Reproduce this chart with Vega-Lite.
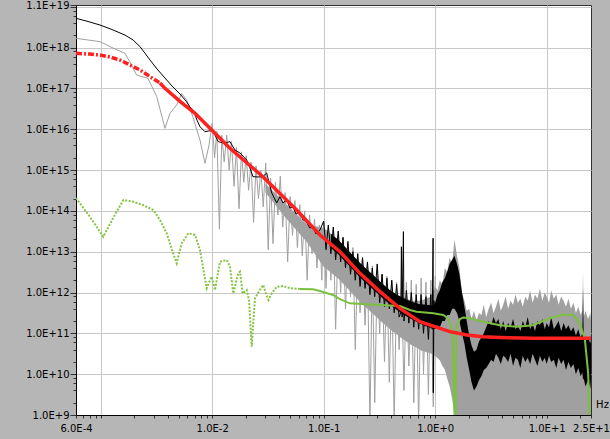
{
  "$schema": "https://vega.github.io/schema/vega-lite/v6.json",
  "width": 515,
  "height": 410,
  "autosize": "none",
  "padding": {"left": 76, "top": 5, "right": 19, "bottom": 24},
  "background": "#b6b6b6",
  "config": {
    "view": {"fill": "white", "stroke": "#303030", "strokeWidth": 1},
    "axis": {"labelFont": "DejaVu Sans", "labelFontSize": 10, "labelColor": "black", "titleFont": "DejaVu Sans", "titleFontSize": 10, "titleFontWeight": "normal", "titleColor": "black", "domainColor": "black", "tickColor": "#333333", "gridColor": "#c8c8c8", "gridWidth": 1, "labelOverlap": false, "labelFlush": false, "labelBound": false}
  },
  "datasets": {
    "gray": [
      {"freq":0.0006,"psd":1.68e18},{"freq":0.000985,"psd":1.39e18},{"freq":0.00126,"psd":1.0e18},{"freq":0.00165,"psd":7.2e17},{"freq":0.00183,"psd":4.4e17},{"freq":0.0021,"psd":2.12e17},{"freq":0.00265,"psd":1.76e17},{"freq":0.00318,"psd":6.3e16},{"freq":0.00377,"psd":1.05e16},{"freq":0.00418,"psd":2.45e16},{"freq":0.0048,"psd":3.9e16},{"freq":0.00532,"psd":7.55e16},{"freq":0.0059,"psd":5.2e16},{"freq":0.00671,"psd":2.0e16},{"freq":0.00777,"psd":5.4e15},{"freq":0.00861,"psd":1.46e15},{"freq":0.00935,"psd":4.0e15},
      {"freq":0.0100,"psd":1.41e16},{"freq":0.0105,"psd":2.0e15},{"freq":0.0110,"psd":8.9e15},{"freq":0.0116,"psd":3.55e13},{"freq":0.0122,"psd":7.1e15},{"freq":0.0128,"psd":1.58e15},{"freq":0.0135,"psd":7.1e15},{"freq":0.0142,"psd":1.0e15},{"freq":0.0149,"psd":5.0e15},{"freq":0.0157,"psd":4.0e14},{"freq":0.0165,"psd":3.55e15},{"freq":0.0174,"psd":1.12e14},{"freq":0.0183,"psd":2.8e15},{"freq":0.0192,"psd":5.0e14},{"freq":0.0202,"psd":2.24e15},{"freq":0.0212,"psd":3.2e14},{"freq":0.0223,"psd":1.58e15},{"freq":0.0235,"psd":5.2e13},{"freq":0.0247,"psd":1.26e15},{"freq":0.0260,"psd":2.0e14},{"freq":0.0273,"psd":1.0e15},{"freq":0.0287,"psd":1.26e14},{"freq":0.0302,"psd":1.48e15},{"freq":0.0318,"psd":1.12e13},{"freq":0.0334,"psd":6.3e14},{"freq":0.0351,"psd":1.58e13},{"freq":0.0369,"psd":5.0e14},{"freq":0.0388,"psd":7.9e13},{"freq":0.0408,"psd":7.1e14},{"freq":0.0429,"psd":4.0e13},{"freq":0.0451,"psd":2.8e14},{"freq":0.0475,"psd":5.6e12},{"freq":0.0500,"psd":2.24e14},{"freq":0.0525,"psd":2.5e13},{"freq":0.0552,"psd":1.78e14},{"freq":0.0581,"psd":1.26e13},{"freq":0.0611,"psd":1.41e14},{"freq":0.0643,"psd":7.9e12},{"freq":0.0676,"psd":1.0e14},{"freq":0.0711,"psd":2.0e12},{"freq":0.0748,"psd":7.9e13},{"freq":0.0786,"psd":8.9e12},{"freq":0.0827,"psd":6.3e13},{"freq":0.0870,"psd":4.0e12},{"freq":0.0915,"psd":4.5e13},{"freq":0.0962,"psd":2.0e12},
      {"freq":0.100,"psd":5.6e13},{"freq":0.105,"psd":1.26e12},{"freq":0.110,"psd":4.0e13},{"freq":0.116,"psd":2.0e12},{"freq":0.122,"psd":3.55e13},{"freq":0.128,"psd":1.26e11},{"freq":0.135,"psd":2.5e13},{"freq":0.142,"psd":1.0e12},{"freq":0.149,"psd":2.24e13},{"freq":0.157,"psd":4.0e11},{"freq":0.165,"psd":1.58e13},{"freq":0.174,"psd":7.9e11},{"freq":0.183,"psd":1.26e13},{"freq":0.192,"psd":4.0e10},{"freq":0.202,"psd":8.9e12},{"freq":0.212,"psd":3.2e11},{"freq":0.223,"psd":7.1e12},{"freq":0.235,"psd":1.58e11},{"freq":0.247,"psd":5.6e12},{"freq":0.260,"psd":6.3e8},{"freq":0.273,"psd":4.5e12},{"freq":0.287,"psd":2.0e9},{"freq":0.302,"psd":3.55e12},{"freq":0.318,"psd":1.0e11},{"freq":0.334,"psd":2.8e12},{"freq":0.351,"psd":2.0e10},{"freq":0.369,"psd":2.5e12},{"freq":0.388,"psd":6.3e9},{"freq":0.408,"psd":2.0e12},{"freq":0.429,"psd":6.3e8},{"freq":0.451,"psd":1.78e12},{"freq":0.475,"psd":4.0e10},{"freq":0.500,"psd":2.0e12},{"freq":0.525,"psd":4.0e9},{"freq":0.552,"psd":1.78e12},{"freq":0.581,"psd":1.58e10},{"freq":0.611,"psd":2.0e12},{"freq":0.643,"psd":2.0e9},{"freq":0.676,"psd":1.58e12},{"freq":0.711,"psd":6.3e8},{"freq":0.748,"psd":2.24e12},{"freq":0.786,"psd":1.0e10},{"freq":0.827,"psd":1.78e12},{"freq":0.870,"psd":3.2e9},{"freq":0.915,"psd":2.0e12},{"freq":0.962,"psd":1.58e9},{"freq":1.0,"psd":2.51e12}
    ],
    "gray_band": [
      {"freq":0.03,"psd":4.7e14,"lo":2.8e14},{"freq":0.045,"psd":1.55e14,"lo":7.1e13},{"freq":0.07,"psd":4.7e13,"lo":1.78e13},
      {"freq":0.1,"psd":3.8e13,"lo":4.3e12},{"freq":0.11,"psd":3.1e13,"lo":3.5e12},{"freq":0.122,"psd":2.45e13,"lo":2.75e12},{"freq":0.135,"psd":1.95e13,"lo":2.2e12},{"freq":0.149,"psd":1.48e13,"lo":1.66e12},{"freq":0.165,"psd":1.1e13,"lo":1.23e12},{"freq":0.183,"psd":8.1e12,"lo":9.1e11},{"freq":0.202,"psd":6.0e12,"lo":6.8e11},{"freq":0.223,"psd":4.6e12,"lo":5.1e11},{"freq":0.247,"psd":3.55e12,"lo":4.0e11},{"freq":0.273,"psd":2.75e12,"lo":3.1e11},{"freq":0.302,"psd":2.14e12,"lo":2.4e11},{"freq":0.334,"psd":1.66e12,"lo":1.86e11},{"freq":0.369,"psd":1.32e12,"lo":1.48e11},{"freq":0.408,"psd":1.05e12,"lo":1.17e11},{"freq":0.451,"psd":8.9e11,"lo":9.5e10},{"freq":0.5,"psd":7.9e11,"lo":7.6e10},{"freq":0.552,"psd":7.1e11,"lo":6.3e10},{"freq":0.611,"psd":6.3e11,"lo":5.2e10},{"freq":0.676,"psd":6.3e11,"lo":4.5e10},{"freq":0.748,"psd":6.3e11,"lo":3.8e10},{"freq":0.827,"psd":7.1e11,"lo":3.5e10},{"freq":0.915,"psd":7.9e11,"lo":3.2e10},
      {"freq":1.0,"psd":1.41e12,"lo":2.8e10},{"freq":1.05,"psd":1.12e12,"lo":2.5e10},{"freq":1.1,"psd":2.0e12,"lo":2.2e10},{"freq":1.16,"psd":1.58e12,"lo":1.6e10},{"freq":1.22,"psd":3.98e12,"lo":1.3e10},{"freq":1.28,"psd":3.16e12,"lo":8e9},{"freq":1.35,"psd":7.08e12,"lo":5e9},{"freq":1.42,"psd":5.01e12,"lo":2.5e9},{"freq":1.49,"psd":2.0e13,"lo":1e9},
      {"freq":1.57,"psd":7.94e12,"lo":1e9},{"freq":1.65,"psd":3.98e12,"lo":1e9},{"freq":1.74,"psd":1.0e12,"lo":1e9},{"freq":1.83,"psd":6.31e11,"lo":1e9},{"freq":1.92,"psd":3.55e11,"lo":1e9},{"freq":2.02,"psd":3.98e11,"lo":1e9},{"freq":2.12,"psd":2.24e11,"lo":1e9},{"freq":2.23,"psd":3.55e11,"lo":1e9},{"freq":2.35,"psd":2.0e11,"lo":1e9},{"freq":2.47,"psd":3.16e11,"lo":1e9},{"freq":2.6,"psd":2.82e11,"lo":1e9},{"freq":2.73,"psd":5.01e11,"lo":1e9},{"freq":2.87,"psd":2.51e11,"lo":1e9},{"freq":3.02,"psd":3.98e11,"lo":1e9},{"freq":3.18,"psd":5.62e11,"lo":1e9},{"freq":3.34,"psd":3.16e11,"lo":1e9},{"freq":3.51,"psd":4.47e11,"lo":1e9},{"freq":3.69,"psd":7.08e11,"lo":1e9},{"freq":3.88,"psd":3.55e11,"lo":1e9},{"freq":4.08,"psd":5.01e11,"lo":1e9},{"freq":4.29,"psd":7.94e11,"lo":1e9},{"freq":4.51,"psd":3.98e11,"lo":1e9},{"freq":4.75,"psd":6.31e11,"lo":1e9},{"freq":5.0,"psd":5.01e11,"lo":1e9},{"freq":5.25,"psd":8.91e11,"lo":1e9},{"freq":5.52,"psd":5.62e11,"lo":1e9},{"freq":5.81,"psd":7.08e11,"lo":1e9},{"freq":6.11,"psd":4.47e11,"lo":1e9},{"freq":6.43,"psd":7.94e11,"lo":1e9},{"freq":6.76,"psd":6.31e11,"lo":1e9},{"freq":7.11,"psd":1.12e12,"lo":1e9},{"freq":7.48,"psd":5.62e11,"lo":1e9},{"freq":7.86,"psd":8.91e11,"lo":1e9},{"freq":8.27,"psd":7.08e11,"lo":1e9},{"freq":8.7,"psd":1.26e12,"lo":1e9},{"freq":9.15,"psd":6.31e11,"lo":1e9},{"freq":9.62,"psd":1.0e12,"lo":1e9},{"freq":10.0,"psd":7.94e11,"lo":1e9},{"freq":10.5,"psd":5.62e11,"lo":1e9},{"freq":11.0,"psd":1.12e12,"lo":1e9},{"freq":11.6,"psd":7.08e11,"lo":1e9},{"freq":12.2,"psd":8.91e11,"lo":1e9},{"freq":12.8,"psd":5.01e11,"lo":1e9},{"freq":13.5,"psd":7.94e11,"lo":1e9},{"freq":14.2,"psd":6.31e11,"lo":1e9},{"freq":14.9,"psd":4.47e11,"lo":1e9},{"freq":15.7,"psd":7.08e11,"lo":1e9},{"freq":16.5,"psd":3.98e11,"lo":1e9},{"freq":17.4,"psd":5.62e11,"lo":1e9},{"freq":18.3,"psd":3.16e11,"lo":1e9},{"freq":19.2,"psd":4.47e11,"lo":1e9},{"freq":20.2,"psd":2.82e11,"lo":1e9},{"freq":20.9,"psd":3.55e11,"lo":1e9},{"freq":21.2,"psd":3.16e12,"lo":1e9},{"freq":21.5,"psd":2.51e11,"lo":1e9},{"freq":22.3,"psd":3.55e11,"lo":1e9},{"freq":23.5,"psd":2.24e11,"lo":1e9},{"freq":24.7,"psd":3.16e11,"lo":1e9},{"freq":25,"psd":2.0e11,"lo":1e9}
    ],
    "black": [
      {"freq":0.0006,"psd":5.19e18},{"freq":0.000769,"psd":4.34e18},{"freq":0.000985,"psd":3.56e18},{"freq":0.00126,"psd":2.76e18},{"freq":0.00165,"psd":2.02e18},{"freq":0.00195,"psd":1.53e18},{"freq":0.00225,"psd":1.05e18},{"freq":0.00249,"psd":7.3e17},{"freq":0.00277,"psd":4.94e17},{"freq":0.0032,"psd":2.98e17},{"freq":0.00377,"psd":1.79e17},{"freq":0.00436,"psd":1.14e17},{"freq":0.00514,"psd":7.26e16},{"freq":0.00582,"psd":4.9e16},{"freq":0.00632,"psd":3.49e16},{"freq":0.00676,"psd":2.94e16},{"freq":0.0073,"psd":1.67e16},{"freq":0.00777,"psd":1.15e16},{"freq":0.00861,"psd":8.67e15},{"freq":0.00955,"psd":9.18e15},{"freq":0.01016,"psd":9.0e15},{"freq":0.01133,"psd":4.94e15},{"freq":0.01275,"psd":4.58e15},{"freq":0.01443,"psd":4.94e15},{"freq":0.016,"psd":3.09e15},{"freq":0.01774,"psd":2.61e15},{"freq":0.0204,"psd":1.76e15},{"freq":0.0218,"psd":1.12e15},{"freq":0.0232,"psd":6.87e14},{"freq":0.0257,"psd":6.76e14},{"freq":0.0285,"psd":6.87e14},{"freq":0.0308,"psd":8.46e14},{"freq":0.0342,"psd":2.74e14},{"freq":0.0379,"psd":1.56e14},{"freq":0.0405,"psd":2.22e14},{"freq":0.0431,"psd":1.56e14},{"freq":0.0466,"psd":1.84e14},{"freq":0.0498,"psd":1.17e14},{"freq":0.053,"psd":1.26e14},{"freq":0.0564,"psd":8.4e13},{"freq":0.0612,"psd":8.85e13},{"freq":0.0652,"psd":5.96e13},{"freq":0.068,"psd":5.96e13},{"freq":0.0753,"psd":3.8e13},{"freq":0.0801,"psd":4.1e13},{"freq":0.0852,"psd":2.71e13},{"freq":0.0926,"psd":3.39e13},
      {"freq":0.100,"psd":5.6e13},{"freq":0.105,"psd":1.12e13},{"freq":0.110,"psd":4.5e13},{"freq":0.116,"psd":8.9e12},{"freq":0.122,"psd":4.0e13},{"freq":0.128,"psd":6.3e12},{"freq":0.135,"psd":3.2e13},{"freq":0.142,"psd":5.6e12},{"freq":0.149,"psd":2.24e13},{"freq":0.157,"psd":4.0e12},{"freq":0.165,"psd":1.78e13},{"freq":0.174,"psd":2.8e12},{"freq":0.183,"psd":1.0e13},{"freq":0.192,"psd":2.0e12},{"freq":0.202,"psd":8.9e12},{"freq":0.212,"psd":1.41e12},{"freq":0.223,"psd":7.1e12},{"freq":0.235,"psd":1.26e12},{"freq":0.247,"psd":5.6e12},{"freq":0.260,"psd":8.9e11},{"freq":0.273,"psd":4.0e12},{"freq":0.287,"psd":7.9e11},{"freq":0.302,"psd":5.0e12},{"freq":0.318,"psd":5.6e11},{"freq":0.334,"psd":2.8e12},{"freq":0.351,"psd":4.5e11},{"freq":0.369,"psd":2.24e12},{"freq":0.388,"psd":4.0e11},{"freq":0.408,"psd":2.0e12},{"freq":0.429,"psd":3.2e11},{"freq":0.451,"psd":1.58e12},{"freq":0.475,"psd":2.5e11},{"freq":0.492,"psd":3.2e11},{"freq":0.498,"psd":1.32e13},{"freq":0.505,"psd":2.5e11},{"freq":0.519,"psd":3.1e13},{"freq":0.525,"psd":2.0e11},{"freq":0.552,"psd":1.12e12},{"freq":0.581,"psd":1.78e11},{"freq":0.611,"psd":1.0e12},{"freq":0.643,"psd":1.41e11},{"freq":0.676,"psd":8.9e11},{"freq":0.711,"psd":1.26e11},{"freq":0.748,"psd":8.9e11},{"freq":0.786,"psd":1.0e11},{"freq":0.827,"psd":7.9e11},{"freq":0.870,"psd":7.1e10},{"freq":0.915,"psd":8.9e11},{"freq":0.94,"psd":1.26e11},{"freq":0.958,"psd":2.14e13},{"freq":0.962,"psd":3.5e9},{"freq":0.975,"psd":6.3e11},{"freq":1.0,"psd":2.0e11}
    ],
    "black_band": [
      {"freq":0.116,"psd":2.75e13,"lo":1.23e13},{"freq":0.135,"psd":1.95e13,"lo":8.7e12},{"freq":0.157,"psd":1.26e13,"lo":5.6e12},{"freq":0.183,"psd":8.1e12,"lo":3.6e12},{"freq":0.212,"psd":5.25e12,"lo":2.34e12},{"freq":0.247,"psd":3.55e12,"lo":1.58e12},{"freq":0.287,"psd":2.45e12,"lo":1.1e12},{"freq":0.334,"psd":1.66e12,"lo":7.4e11},{"freq":0.388,"psd":1.17e12,"lo":5.25e11},{"freq":0.451,"psd":8.9e11,"lo":3.8e11},{"freq":0.525,"psd":7.1e11,"lo":2.8e11},{"freq":0.611,"psd":6.0e11,"lo":2.24e11},{"freq":0.711,"psd":5.25e11,"lo":1.78e11},{"freq":0.827,"psd":5.0e11,"lo":1.5e11},{"freq":0.962,"psd":4.8e11,"lo":1.32e11},
      {"freq":1.0,"psd":5.62e11,"lo":1.26e11},{"freq":1.05,"psd":8.91e11,"lo":1.58e11},{"freq":1.1,"psd":1.12e12,"lo":1.41e11},{"freq":1.16,"psd":1.78e12,"lo":2.0e11},{"freq":1.22,"psd":2.24e12,"lo":2.0e11},{"freq":1.28,"psd":3.16e12,"lo":2.82e11},{"freq":1.35,"psd":5.01e12,"lo":2.82e11},{"freq":1.42,"psd":6.31e12,"lo":3.98e11},{"freq":1.49,"psd":7.94e12,"lo":3.98e11},{"freq":1.57,"psd":5.01e12,"lo":3.16e11},{"freq":1.65,"psd":2.82e12,"lo":2.0e11},{"freq":1.74,"psd":1.0e12,"lo":1.0e11},{"freq":1.83,"psd":4.47e11,"lo":5.62e10},{"freq":1.92,"psd":2.0e11,"lo":2.51e10},{"freq":2.02,"psd":8.91e10,"lo":1.26e10},{"freq":2.12,"psd":5.01e10,"lo":6.31e9},{"freq":2.23,"psd":3.55e10,"lo":3.98e9},{"freq":2.35,"psd":3.98e10,"lo":5.01e9},{"freq":2.47,"psd":6.31e10,"lo":7.08e9},{"freq":2.6,"psd":7.94e10,"lo":8.91e9},{"freq":2.73,"psd":1.0e11,"lo":1.26e10},{"freq":2.87,"psd":1.41e11,"lo":1.41e10},
      {"freq":3.02,"psd":2.0e11,"lo":1.78e10},{"freq":3.18,"psd":1.58e11,"lo":2.24e10},{"freq":3.34,"psd":2.51e11,"lo":2.0e10},{"freq":3.51,"psd":1.78e11,"lo":3.16e10},{"freq":3.69,"psd":2.24e11,"lo":2.51e10},{"freq":3.88,"psd":1.26e11,"lo":1.78e10},{"freq":4.08,"psd":2.0e11,"lo":2.82e10},{"freq":4.29,"psd":1.12e11,"lo":2.51e10},{"freq":4.51,"psd":1.78e11,"lo":2.0e10},{"freq":4.75,"psd":1.41e11,"lo":3.16e10},{"freq":5.0,"psd":2.24e11,"lo":1.58e10},{"freq":5.25,"psd":1.26e11,"lo":2.51e10},{"freq":5.52,"psd":1.58e11,"lo":2.24e10},{"freq":5.81,"psd":1.12e11,"lo":1.41e10},{"freq":6.11,"psd":2.0e11,"lo":2.82e10},{"freq":6.43,"psd":1.41e11,"lo":2.0e10},{"freq":6.76,"psd":2.51e11,"lo":2.51e10},{"freq":7.11,"psd":1.26e11,"lo":1.78e10},{"freq":7.48,"psd":1.78e11,"lo":3.16e10},{"freq":7.86,"psd":1.12e11,"lo":2.24e10},{"freq":8.27,"psd":2.0e11,"lo":1.58e10},{"freq":8.7,"psd":1.58e11,"lo":2.82e10},{"freq":9.15,"psd":2.24e11,"lo":2.0e10},{"freq":9.62,"psd":1.26e11,"lo":2.51e10},{"freq":10.0,"psd":1.78e11,"lo":1.78e10},{"freq":10.5,"psd":1.41e11,"lo":2.82e10},{"freq":11.0,"psd":2.51e11,"lo":2.0e10},{"freq":11.6,"psd":1.26e11,"lo":2.24e10},{"freq":12.2,"psd":1.58e11,"lo":1.41e10},{"freq":12.8,"psd":2.0e11,"lo":2.51e10},{"freq":13.5,"psd":1.12e11,"lo":1.78e10},{"freq":14.2,"psd":1.78e11,"lo":2.24e10},{"freq":14.9,"psd":1.26e11,"lo":1.26e10},{"freq":15.7,"psd":1.58e11,"lo":2.0e10},{"freq":16.5,"psd":1.12e11,"lo":1.41e10},{"freq":17.4,"psd":1.41e11,"lo":1.78e10},{"freq":18.3,"psd":8.91e10,"lo":1.0e10},{"freq":19.2,"psd":1.26e11,"lo":1.41e10},{"freq":20.2,"psd":7.94e10,"lo":8.91e9},{"freq":20.9,"psd":1.0e11,"lo":1.12e10},{"freq":21.2,"psd":1.26e12,"lo":7.08e9},{"freq":21.5,"psd":8.91e10,"lo":7.94e9},{"freq":22.3,"psd":6.31e10,"lo":5.01e9},{"freq":23.5,"psd":7.94e10,"lo":7.08e9},{"freq":24.7,"psd":5.62e10,"lo":4.47e9},{"freq":25,"psd":7.94e10,"lo":7.94e9}
    ],
    "green_dotted": [
      {"freq":0.0006,"psd":2.06e14},{"freq":0.000801,"psd":7.1e13},{"freq":0.001054,"psd":2.33e13},{"freq":0.001288,"psd":6.6e13},{"freq":0.001594,"psd":1.84e14},{"freq":0.00196,"psd":1.67e14},{"freq":0.002393,"psd":1.39e14},{"freq":0.00296,"psd":1.05e14},{"freq":0.0034,"psd":5.96e13},{"freq":0.003906,"psd":2.82e13},{"freq":0.00436,"psd":1.1e13},{"freq":0.0048,"psd":5.19e12},{"freq":0.00532,"psd":1.58e13},{"freq":0.0061,"psd":2.82e13},{"freq":0.00701,"psd":2.57e13},{"freq":0.00777,"psd":1.1e13},{"freq":0.00892,"psd":1.27e12},{"freq":0.00989,"psd":2.45e12},{"freq":0.01059,"psd":1.15e12},{"freq":0.01174,"psd":5.69e12},{"freq":0.0135,"psd":6.25e12},{"freq":0.01443,"psd":4.3e12},{"freq":0.01545,"psd":9.5e11},{"freq":0.0171,"psd":2.95e12},{"freq":0.01774,"psd":3.24e12},{"freq":0.01875,"psd":9.5e11},{"freq":0.0204,"psd":1.15e12},{"freq":0.0214,"psd":6.5e11},{"freq":0.0226,"psd":4.7e10},{"freq":0.02345,"psd":2.1e11},{"freq":0.0242,"psd":7.2e11},{"freq":0.0268,"psd":1.17e12},{"freq":0.0287,"psd":1.53e12},{"freq":0.03035,"psd":9.3e11},{"freq":0.032,"psd":6.6e11},{"freq":0.0342,"psd":9.5e11},{"freq":0.0379,"psd":1.38e12},{"freq":0.0434,"psd":1.44e12},{"freq":0.0498,"psd":1.27e12},{"freq":0.0612,"psd":1.22e12}
    ],
    "green_solid": [
      {"freq":0.0612,"psd":1.22e12},{"freq":0.08,"psd":1.2e12},{"freq":0.0926,"psd":1.09e12},{"freq":0.1211,"psd":8.7e11},{"freq":0.14,"psd":6.9e11},{"freq":0.172,"psd":5.43e11},{"freq":0.2428,"psd":5.13e11},{"freq":0.483,"psd":4.68e11},{"freq":0.594,"psd":3.72e11},{"freq":0.682,"psd":3.39e11},{"freq":0.961,"psd":3.09e11},{"freq":1.181,"psd":2.81e11},{"freq":1.302,"psd":2.35e11},{"freq":1.385,"psd":1.5e11},{"freq":1.44,"psd":6.9e10},{"freq":1.5,"psd":5e8},{"freq":1.52,"psd":5e8},{"freq":1.535,"psd":2.2e10},{"freq":1.557,"psd":1.45e11},{"freq":1.668,"psd":2.24e11},{"freq":1.79,"psd":2.45e11},{"freq":2.051,"psd":2.35e11},{"freq":2.7,"psd":1.93e11},{"freq":3.811,"psd":1.58e11},{"freq":5.38,"psd":1.45e11},{"freq":7.5,"psd":1.58e11},{"freq":10.7,"psd":2.34e11},{"freq":14.08,"psd":2.88e11},{"freq":17.3,"psd":2.81e11},{"freq":19.89,"psd":1.76e11},{"freq":22.05,"psd":6.9e10},{"freq":23.59,"psd":1.05e10},{"freq":24.45,"psd":5e8}
    ],
    "red_dashdot": [
      {"freq":0.0006,"psd":7.2e17},{"freq":0.000801,"psd":6.9e17},{"freq":0.000985,"psd":6.55e17},{"freq":0.00121,"psd":5.85e17},{"freq":0.00149,"psd":4.94e17},{"freq":0.00183,"psd":3.73e17},{"freq":0.00225,"psd":2.81e17},{"freq":0.00277,"psd":1.93e17},{"freq":0.0034,"psd":1.35e17}
    ],
    "red_solid": [
      {"freq":0.0034,"psd":1.35e17},{"freq":0.00377,"psd":1.0e17},{"freq":0.00514,"psd":4.79e16},{"freq":0.00701,"psd":2.45e16},{"freq":0.01,"psd":9.33e15},{"freq":0.01443,"psd":3.4e15},{"freq":0.0285,"psd":6.87e14},{"freq":0.0572,"psd":1.05e14},{"freq":0.0926,"psd":2.56e13},{"freq":0.14,"psd":1.0e13},{"freq":0.2115,"psd":2.95e12},{"freq":0.32,"psd":1.05e12},{"freq":0.483,"psd":4.09e11},{"freq":0.7304,"psd":1.93e11},{"freq":1.104,"psd":1.32e11},{"freq":1.357,"psd":1.1e11},{"freq":1.927,"psd":9.08e10},{"freq":2.683,"psd":8.26e10},{"freq":3.811,"psd":7.94e10},{"freq":7.534,"psd":7.53e10},{"freq":25,"psd":7.53e10}
    ]
  },
  "encoding": {
    "x": {
      "field": "freq", "type": "quantitative",
      "scale": {"type": "log", "domain": [0.0006, 25], "nice": false},
      "axis": {
        "values": [0.0006,0.0007,0.0008,0.0009,0.001,0.002,0.003,0.004,0.005,0.006,0.007,0.008,0.009,0.01,0.02,0.03,0.04,0.05,0.06,0.07,0.08,0.09,0.1,0.2,0.3,0.4,0.5,0.6,0.7,0.8,0.9,1,2,3,4,5,6,7,8,9,10,20,25],
        "title": "Hz", "titleX": 526, "titleY": -11, "titleAlign": "center", "titleBaseline": "middle", "titleAnchor": null,
        "labelExpr": "(abs(datum.value-0.0006)<1e-9 || datum.value>24 || (datum.value>0.005 && abs(log(datum.value)/LN10-round(log(datum.value)/LN10))<1e-6)) ? (format(datum.value/pow(10,floor(log(datum.value)/LN10+1e-9)),'.1f')+'E'+(floor(log(datum.value)/LN10+1e-9)>=0?'+':'')+floor(log(datum.value)/LN10+1e-9)) : ''",
        "labelPadding": 5, "tickSize": 3,
        "grid": true,
        "gridOpacity": {"condition": {"test": "abs(log(datum.value)/LN10-round(log(datum.value)/LN10))<1e-6 && datum.value<20", "value": 1}, "value": 0}
      }
    },
    "y": {
      "field": "psd", "type": "quantitative",
      "scale": {"type": "log", "domain": [1e9, 1.1e19], "nice": false},
      "axis": {
        "values": [1e9,2e9,4e9,6e9,8e9,1e10,2e10,4e10,6e10,8e10,1e11,2e11,4e11,6e11,8e11,1e12,2e12,4e12,6e12,8e12,1e13,2e13,4e13,6e13,8e13,1e14,2e14,4e14,6e14,8e14,1e15,2e15,4e15,6e15,8e15,1e16,2e16,4e16,6e16,8e16,1e17,2e17,4e17,6e17,8e17,1e18,2e18,4e18,6e18,8e18,1e19,1.1e19],
        "title": null,
        "labelExpr": "((abs(log(datum.value)/LN10-round(log(datum.value)/LN10))<1e-6 && datum.value<5e18) || datum.value>1.05e19) ? (format(datum.value/pow(10,floor(log(datum.value)/LN10+1e-9)),'.1f')+'E'+(floor(log(datum.value)/LN10+1e-9)>=0?'+':'')+floor(log(datum.value)/LN10+1e-9)) : ''",
        "labelPadding": 1,
        "tickSize": {"condition": {"test": "abs(log(datum.value)/LN10-round(log(datum.value)/LN10))<1e-6 || datum.value>1.05e19", "value": 6}, "value": 3},
        "grid": true,
        "gridOpacity": {"condition": {"test": "abs(log(datum.value)/LN10-round(log(datum.value)/LN10))<1e-6", "value": 1}, "value": 0}
      }
    }
  },
  "layer": [
    {"data": {"name": "gray_band"}, "mark": {"type": "area", "color": "#a0a0a0", "clip": true}, "encoding": {"y2": {"field": "lo"}}},
    {"data": {"name": "gray"}, "mark": {"type": "line", "color": "#a0a0a0", "strokeWidth": 1, "clip": true}, "encoding": {}},
    {"data": {"name": "black_band"}, "mark": {"type": "area", "color": "#000000", "clip": true}, "encoding": {"y2": {"field": "lo"}}},
    {"data": {"name": "black"}, "mark": {"type": "line", "color": "#000000", "strokeWidth": 1, "clip": true}, "encoding": {}},
    {"data": {"name": "green_dotted"}, "mark": {"type": "line", "color": "#86c440", "strokeWidth": 2, "strokeDash": [2, 1.5], "clip": true}, "encoding": {}},
    {"data": {"name": "green_solid"}, "mark": {"type": "line", "color": "#7cc040", "strokeWidth": 2, "clip": true}, "encoding": {}},
    {"data": {"name": "red_dashdot"}, "mark": {"type": "line", "color": "#ff2020", "strokeWidth": 3.5, "strokeDash": [6, 2, 2, 2], "clip": true}, "encoding": {}},
    {"data": {"name": "red_solid"}, "mark": {"type": "line", "color": "#ff2020", "strokeWidth": 3.5, "clip": true}, "encoding": {}}
  ]
}
